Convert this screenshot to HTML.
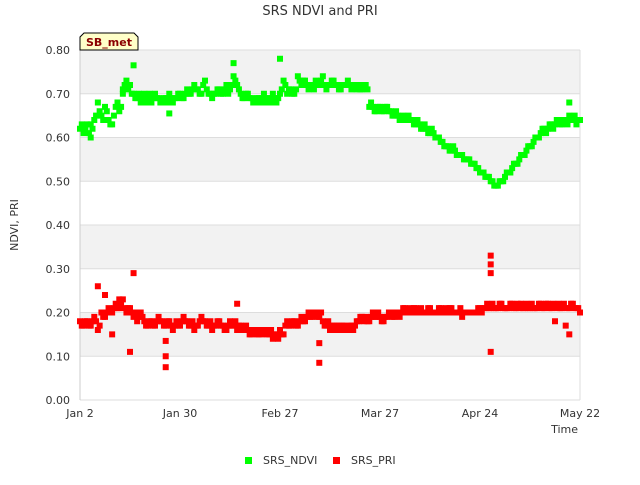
<!DOCTYPE html>
<html><head><meta charset="utf-8"><style>
body{margin:0;background:#fff;font-family:"Liberation Sans",sans-serif}
svg text{font-family:"DejaVu Sans","Liberation Sans",sans-serif}
</style></head><body>
<svg id="chart" width="640" height="480" viewBox="0 0 640 480">
<text x="320" y="15" text-anchor="middle" font-size="13" fill="#333">SRS NDVI and PRI</text>
<g id="bands"></g>
<g id="grid"></g>
<g id="yticks"></g>
<g id="xticks"></g>
<g id="ndvi"></g>
<g id="pri"></g>
<text transform="translate(18,225) rotate(-90)" text-anchor="middle" font-size="11" fill="#333">NDVI, PRI</text>
<text x="578" y="433" text-anchor="end" font-size="11" fill="#333">Time</text>
<g>
<path d="M80,50 L80,37 L84,33 L134,33 L138,37 L138,50 Z" fill="#ffffc8" stroke="#000" stroke-width="1"/>
<text x="109" y="46" text-anchor="middle" font-size="11" font-weight="bold" fill="#8b0000">SB_met</text>
</g>
<g>
<g><rect x="245" y="457" width="7" height="7" fill="#00ff00"/><text x="263" y="464" font-size="11" fill="#333">SRS_NDVI</text></g>
<g><rect x="333" y="457" width="7" height="7" fill="#ff0000"/><text x="351" y="464" font-size="11" fill="#333">SRS_PRI</text></g>
</g>
</svg>
<script>
const yTicks=[0,0.1,0.2,0.3,0.4,0.5,0.6,0.7,0.8];
const xTickDays=[0,28,56,84,112,140];
const xTickLabels=["Jan 2","Jan 30","Feb 27","Mar 27","Apr 24","May 22"];
const ndviDaily=[.62,.61,.63,.60,.64,.68,.65,.67,.64,.63,
.67,.66,.71,.73,.72,.70,.69,.68,.70,.69,
.68,.70,.69,.68,.69,.70,.68,.69,.70,.69,
.71,.70,.72,.71,.70,.73,.70,.69,.70,.71,
.70,.72,.71,.74,.72,.70,.69,.70,.69,.68,
.69,.69,.68,.69,.70,.68,.70,.73,.70,.71,
.70,.74,.72,.73,.71,.72,.73,.72,.74,.71,
.72,.73,.72,.71,.72,.73,.71,.72,.72,.71,
.72,.67,.67,.66,.67,.66,.67,.66,.65,.65,
.64,.64,.65,.64,.63,.63,.62,.62,.61,.61,
.60,.59,.58,.58,.57,.57,.56,.56,.55,.55,
.54,.53,.52,.52,.51,.50,.49,.49,.50,.51,
.52,.53,.54,.55,.56,.57,.58,.59,.60,.61,
.62,.62,.63,.63,.64,.63,.64,.65,.64,.63,.64];
const ndviHalf=[.63,.62,.61,.62,.65,.66,.64,.66,.63,.65,
.68,.67,.72,.71,.70,.69,.70,.69,.68,.70,
.69,.69,.68,.69,.68,.69,.69,.70,.69,.70,
.70,.71,.71,.70,.72,.71,.70,.70,.71,.70,
.71,.70,.72,.73,.71,.69,.70,.69,.68,.69,
.68,.70,.69,.68,.69,.69,.71,.72,.71,.70,
.71,.73,.73,.72,.72,.71,.72,.73,.72,.72,
.73,.72,.71,.72,.72,.72,.72,.71,.71,.72,
.71,.68,.66,.67,.66,.67,.66,.65,.66,.64,
.65,.64,.64,.63,.64,.62,.63,.61,.62,.60,
.60,.59,.58,.57,.58,.56,.56,.55,.55,.54,
.54,.53,.52,.51,.51,.50,.49,.50,.50,.52,
.52,.54,.54,.56,.56,.58,.58,.60,.60,.62,
.61,.63,.62,.64,.63,.64,.63,.64,.65,.64];
const ndviOutDays=[15,43,56,25,137,3,12];
const ndviOutVals=[.765,.77,.78,.655,.68,.63,.70];
const priDaily=[.18,.17,.18,.17,.19,.16,.20,.19,.21,.20,
.22,.21,.23,.20,.21,.19,.18,.20,.18,.17,
.18,.17,.19,.18,.17,.18,.16,.18,.17,.19,
.18,.17,.16,.17,.19,.18,.17,.16,.17,.18,
.17,.16,.18,.17,.16,.17,.16,.16,.15,.16,
.15,.15,.16,.15,.14,.15,.16,.15,.18,.17,
.18,.17,.19,.18,.20,.19,.20,.19,.18,.17,
.16,.17,.17,.16,.17,.16,.17,.17,.18,.19,
.19,.18,.20,.19,.19,.18,.19,.20,.19,.20,
.20,.21,.20,.20,.21,.20,.20,.20,.21,.20,
.20,.21,.20,.20,.21,.20,.20,.19,.20,.20,
.20,.20,.21,.21,.22,.21,.21,.21,.22,.21,
.21,.22,.21,.21,.21,.22,.21,.21,.21,.22,
.21,.22,.21,.18,.22,.21,.17,.21,.22,.21,.20];
const priHalf=[.17,.18,.17,.18,.18,.17,.19,.20,.20,.21,
.21,.22,.21,.21,.20,.20,.19,.19,.17,.18,
.17,.18,.18,.17,.18,.17,.17,.17,.18,.18,
.17,.18,.17,.18,.18,.17,.18,.17,.18,.17,
.16,.17,.17,.18,.17,.16,.17,.15,.16,.15,
.16,.16,.15,.16,.15,.14,.15,.17,.17,.18,
.17,.18,.18,.19,.19,.20,.19,.20,.17,.18,
.17,.16,.17,.17,.16,.17,.16,.18,.19,.18,
.18,.19,.19,.20,.18,.19,.20,.19,.20,.19,
.21,.20,.21,.21,.20,.21,.20,.21,.20,.20,
.21,.20,.21,.21,.20,.20,.21,.20,.20,.20,
.20,.21,.20,.21,.21,.22,.21,.22,.21,.21,
.22,.21,.22,.22,.21,.21,.22,.21,.22,.21,
.22,.21,.22,.21,.21,.22,.21,.22,.21,.21];
const priOutDays=[5,15,14,7,24,24,24,67,67,115,115,115,115,137,44,9,11];
const priOutVals=[.26,.29,.11,.24,.075,.10,.135,.085,.13,.33,.31,.29,.11,.15,.22,.15,.23];

const X0=80,X1=580,Y0=400,Y1=50,DAYS=140,YMAX=0.8;
const sx=d=>X0+(X1-X0)*d/DAYS;
const sy=v=>Y0-(Y0-Y1)*v/YMAX;
const NS="http://www.w3.org/2000/svg";
function mk(tag,parent,attrs){const e=document.createElementNS(NS,tag);for(const k in attrs)e.setAttribute(k,attrs[k]);parent.appendChild(e);return e;}
const bands=document.getElementById('bands'),grid=document.getElementById('grid'),yt=document.getElementById('yticks'),xt=document.getElementById('xticks');
for(let i=0;i<yTicks.length-1;i++){
  const r=mk('rect',bands,{x:X0,y:sy(yTicks[i+1]),width:X1-X0,height:sy(yTicks[i])-sy(yTicks[i+1]),fill:(i%2===1)?'#f2f2f2':'#ffffff'});
  
  
}
yTicks.forEach(v=>{
  const l=mk('line',grid,{x1:X0,x2:X1,y1:sy(v),y2:sy(v),stroke:'#dddddd','stroke-width':1});
  
  
  const t=mk('text',yt,{x:X0-10,y:sy(v)+4,'text-anchor':'end','font-size':11,fill:'#333'});
  t.textContent=v.toFixed(2);
  
  
});
const ax=mk('line',grid,{x1:X0,x2:X0,y1:Y1,y2:Y0,stroke:'#ccc'});


const ax2=mk('line',grid,{x1:X1,x2:X1,y1:Y1,y2:Y0,stroke:'#ddd'});


xTickDays.forEach((d,i)=>{
  const t=mk('text',xt,{x:sx(d),y:Y0+17,'text-anchor':'middle','font-size':11,fill:'#333'});
  t.textContent=xTickLabels[i];
  
  
});
function pts(g,days,vals,color,name){
  for(let i=0;i<vals.length;i++){
    const r=mk('rect',g,{x:sx(days[i])-3,y:sy(vals[i])-3,width:6,height:6,fill:color});
    
    
  }
}
const ng=document.getElementById('ndvi'),pg=document.getElementById('pri');
pts(ng,ndviDaily.map((_,i)=>i),ndviDaily,'#00ff00','ndvi-point');
pts(ng,ndviHalf.map((_,i)=>i+0.5),ndviHalf,'#00ff00','ndvi-point');
pts(ng,ndviOutDays,ndviOutVals,'#00ff00','ndvi-point');
pts(pg,priDaily.map((_,i)=>i),priDaily,'#ff0000','pri-point');
pts(pg,priHalf.map((_,i)=>i+0.5),priHalf,'#ff0000','pri-point');
pts(pg,priOutDays,priOutVals,'#ff0000','pri-point');
</script>
</body></html>
